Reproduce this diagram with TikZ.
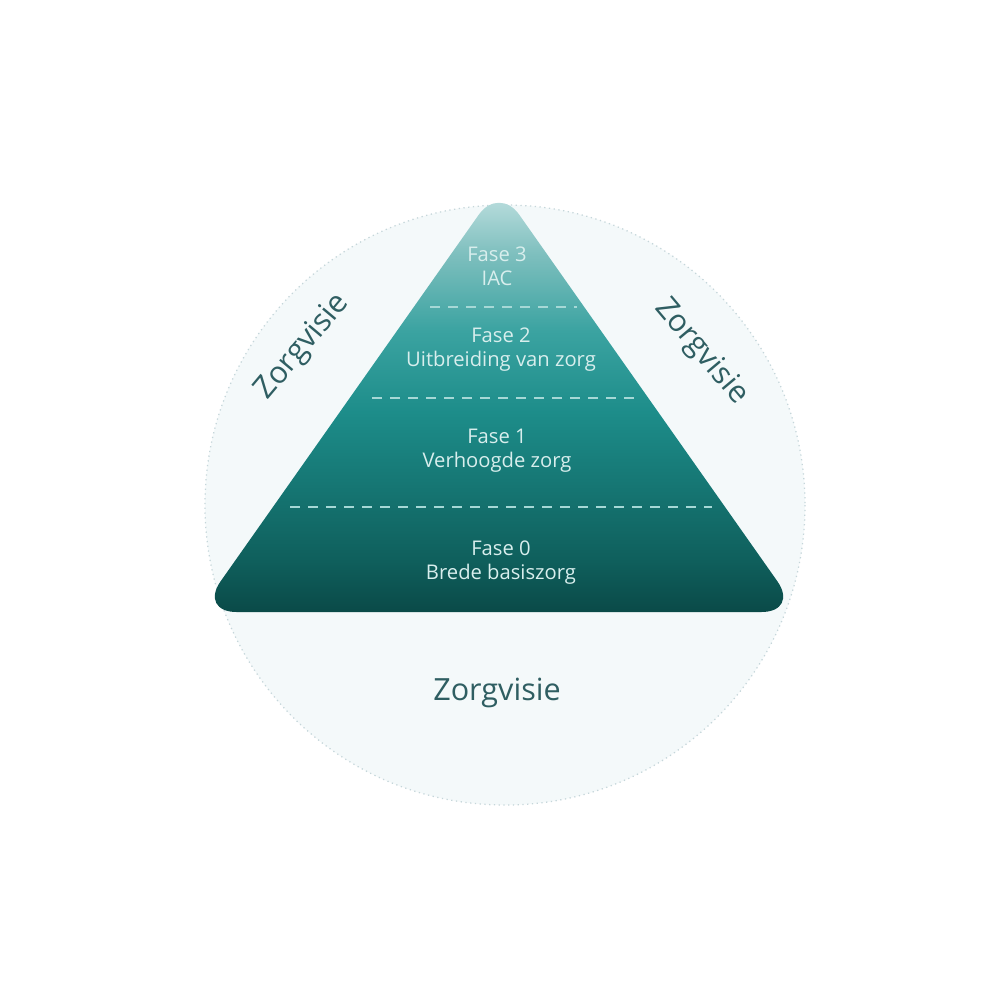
\documentclass[tikz,border=0pt]{standalone}
\usepackage{fontspec}
\setmainfont{Open Sans}

\definecolor{circlefill}{HTML}{F4F9FA}
\definecolor{circleline}{HTML}{C5D6DA}
\definecolor{visiontext}{HTML}{2F5E62}
\definecolor{phasetext}{HTML}{D8EEED}
\definecolor{dividerline}{HTML}{A6D8D6}
\definecolor{pyrA}{HTML}{0A4A48}
\definecolor{pyrB}{HTML}{0F5F5C}
\definecolor{pyrC}{HTML}{157471}
\definecolor{pyrD}{HTML}{1D8D8A}
\definecolor{pyrE}{HTML}{3BA3A1}
\definecolor{pyrF}{HTML}{7EBFBE}
\definecolor{pyrG}{HTML}{C5E3E3}

\pgfdeclareverticalshading{pyramidshade}{100bp}{color(0bp)=(pyrA); color(25bp)=(pyrA); color(31bp)=(pyrB); color(39bp)=(pyrC); color(48.5bp)=(pyrD); color(58bp)=(pyrE); color(67bp)=(pyrF); color(75bp)=(pyrG); color(100bp)=(pyrG)}

\newcommand{\circX}{505}
\newcommand{\circY}{505}
\newcommand{\circR}{300}
\newcommand{\pyrApexX}{499}
\newcommand{\pyrApexY}{186}
\newcommand{\pyrBaseY}{612}
\newcommand{\pyrLeftX}{199}
\newcommand{\pyrRightX}{799}

\tikzset{
  phase/.style={align=center, text=phasetext, font=\fontsize{11.5}{13.6}\selectfont},
  vision/.style={text=visiontext, font=\fontsize{17.4}{20}\selectfont},
  divider/.style={dividerline, line width=0.4mm, dash pattern=on 2mm off 1.6mm}
}

\begin{document}
\begin{tikzpicture}[x=0.2mm, y=-0.2mm]
        \useasboundingbox[fill=white] (0,0) rectangle (1000,1000);

        % Circle
        \draw[fill=circlefill, draw=circleline, line width=0.25mm, dotted] (\circX,\circY) circle[radius=\circR];

        % Pyramid
        \shade[shading=pyramidshade] (\pyrApexX,\pyrBaseY) [rounded corners=7.5mm] -- (\pyrLeftX,\pyrBaseY) [rounded corners=7mm] -- (\pyrApexX,\pyrApexY) [rounded corners=7.5mm] -- (\pyrRightX,\pyrBaseY) -- cycle;

        % Dividers
        \coordinate (divthreeL) at (430,307);
        \coordinate (divthreeR) at (577,307);
        \coordinate (divtwoL) at (372,398);
        \coordinate (divtwoR) at (635,398);
        \coordinate (divoneL) at (290,507);
        \coordinate (divoneR) at (712,507);
        \draw[divider] (divthreeL) -- (divthreeR);
        \draw[divider] (divtwoL) -- (divtwoR);
        \draw[divider] (divoneL) -- (divoneR);

        % Phases
        \node[phase] (fasethree) at (497,266) {Fase 3\\IAC};
        \node[phase] (fasetwo) at (501,350) {Fase 2\\Uitbreiding van zorg};
        \node[phase] (faseone) at (497,451) {Fase 1\\Verhoogde zorg};
        \node[phase] (fasezero) at (501,563) {Fase 0\\Brede basiszorg};

        % Vision labels
        \node[vision, rotate=50] (visionleft) at (303,347) {Zorgvisie};
        \node[vision, rotate=-50] (visionright) at (701,352) {Zorgvisie};
        \node[vision] (visionbottom) at (497,693) {Zorgvisie};
    \end{tikzpicture}
\end{document}
